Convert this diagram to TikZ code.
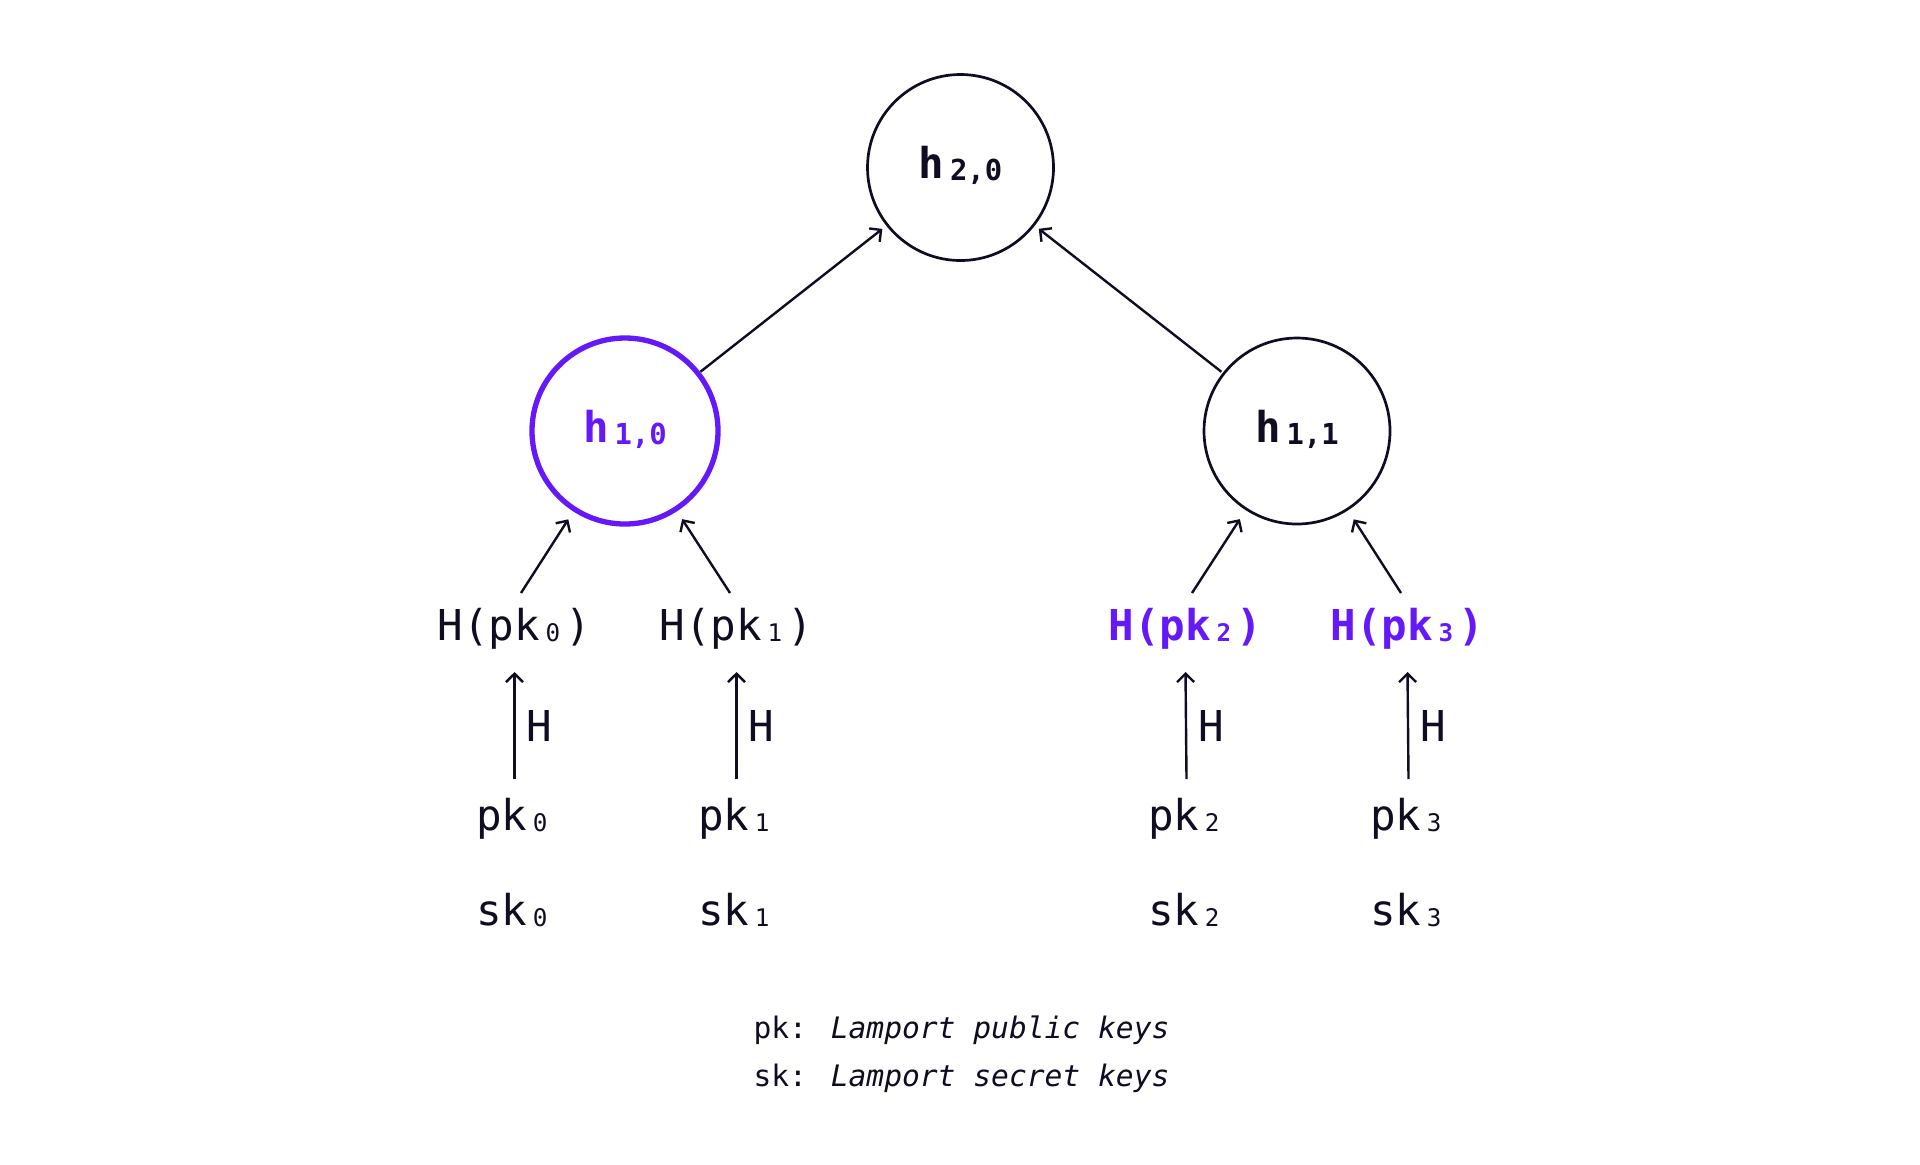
\documentclass[tikz,border=0pt]{standalone}
\usepackage{fontspec}
\setmainfont{DejaVu Sans Mono}
\setmonofont{DejaVu Sans Mono}
\usetikzlibrary{arrows.meta,calc}
\definecolor{ink}{HTML}{110C22}
\definecolor{vio}{HTML}{6518FA}
\newcommand\sbs[1]{{\setbox0\hbox{0}\makebox[\wd0][c]{\raisebox{-0.8pt}{\scalebox{0.57}{#1}}}}}
\newcommand\hsub[1]{\kern2.8pt\raisebox{-1pt}{\scalebox{0.68}{#1}}}
\begin{document}
\begin{tikzpicture}[x=0.5pt,y=-0.5pt,
  every node/.style={inner sep=0pt,outer sep=0pt,text=ink,font=\fontsize{21.25}{25}\selectfont},
  hnode/.style={circle,draw=ink,line width=1.35pt,minimum size=93pt,text height=11pt,text depth=0pt,font=\fontsize{21.25}{25}\selectfont\bfseries},
  hsel/.style={hnode,draw=vio,line width=2.65pt,text=vio},
  leaf/.style={anchor=base},
  leafsel/.style={anchor=base,text=vio,font=\fontsize{21.25}{25}\selectfont\bfseries},
  hlab/.style={anchor=base west},
  legend/.style={anchor=base,font=\fontsize{14.8}{18}\selectfont},
  edge/.style={draw=ink,line width=1.2pt,-{Straight Barb[length=4.2pt,width=8.5pt]}}
]
\fill[white] (0,0) rectangle (1920,1164);
\useasboundingbox (0,0) rectangle (1920,1164);

\begin{scope}[xshift=0.75pt]
% tree nodes
\node[hnode] (h20) at (959,167.5) {h\hsub{2,0}};
\node[hsel]  (h10) at (623.5,431) {h\hsub{1,0}};
\node[hnode] (h11) at (1295.5,431) {h\hsub{1,1}};

% leaf hashes
\node[leaf]    (hpk0) at (513,640)  {H(pk\sbs{0})};
\node[leaf]    (hpk1) at (735,640)  {H(pk\sbs{1})};
\node[leafsel] (hpk2) at (1184,640) {H(pk\sbs{2})};
\node[leafsel] (hpk3) at (1406,640) {H(pk\sbs{3})};

% public keys
\node[leaf] (pk0) at (513,830)  {pk\sbs{0}};
\node[leaf] (pk1) at (735,830)  {pk\sbs{1}};
\node[leaf] (pk2) at (1185,830) {pk\sbs{2}};
\node[leaf] (pk3) at (1407,830) {pk\sbs{3}};

% secret keys
\node[leaf] (sk0) at (513,925)  {sk\sbs{0}};
\node[leaf] (sk1) at (735,925)  {sk\sbs{1}};
\node[leaf] (sk2) at (1185,925) {sk\sbs{2}};
\node[leaf] (sk3) at (1407,925) {sk\sbs{3}};

% H labels
\node[hlab] (l0) at ($(pk0.base)+(12,-89)$) {H};
\node[hlab] (l1) at ($(pk1.base)+(12,-89)$) {H};
\node[hlab] (l2) at ($(pk2.base)+(12,-89)$) {H};
\node[hlab] (l3) at ($(pk3.base)+(12,-89)$) {H};

% edges between tree levels
\draw[edge,shorten <=1.5pt,shorten >=3.2pt] (h10) -- (h20);
\draw[edge,shorten <=1.5pt,shorten >=3.2pt] (h11) -- (h20);

\draw[edge,shorten >=6pt] ($(hpk0.base)+(6.5,-47)$) -- (h10);
\draw[edge,shorten >=6pt] ($(hpk1.base)+(-6.5,-47)$) -- (h10);
\draw[edge,shorten >=6pt] ($(hpk2.base)+(6.5,-47)$) -- (h11);
\draw[edge,shorten >=6pt] ($(hpk3.base)+(-6.5,-47)$) -- (h11);

% hashing arrows
\draw[edge] ($(pk0.base)+(0,-51)$) -- ($(hpk0.base)+(0,32)$);
\draw[edge] ($(pk1.base)+(0,-51)$) -- ($(hpk1.base)+(0,32)$);
\draw[edge] ($(pk2.base)+(0,-51)$) -- ($(hpk2.base)+(0,32)$);
\draw[edge] ($(pk3.base)+(0,-51)$) -- ($(hpk3.base)+(0,32)$);

% legend
\node[legend] (leg1) at (960,1038) {pk: \textit{Lamport public keys}};
\node[legend] (leg2) at (960,1086) {sk: \textit{Lamport secret keys}};
\end{scope}
\end{tikzpicture}
\end{document}
